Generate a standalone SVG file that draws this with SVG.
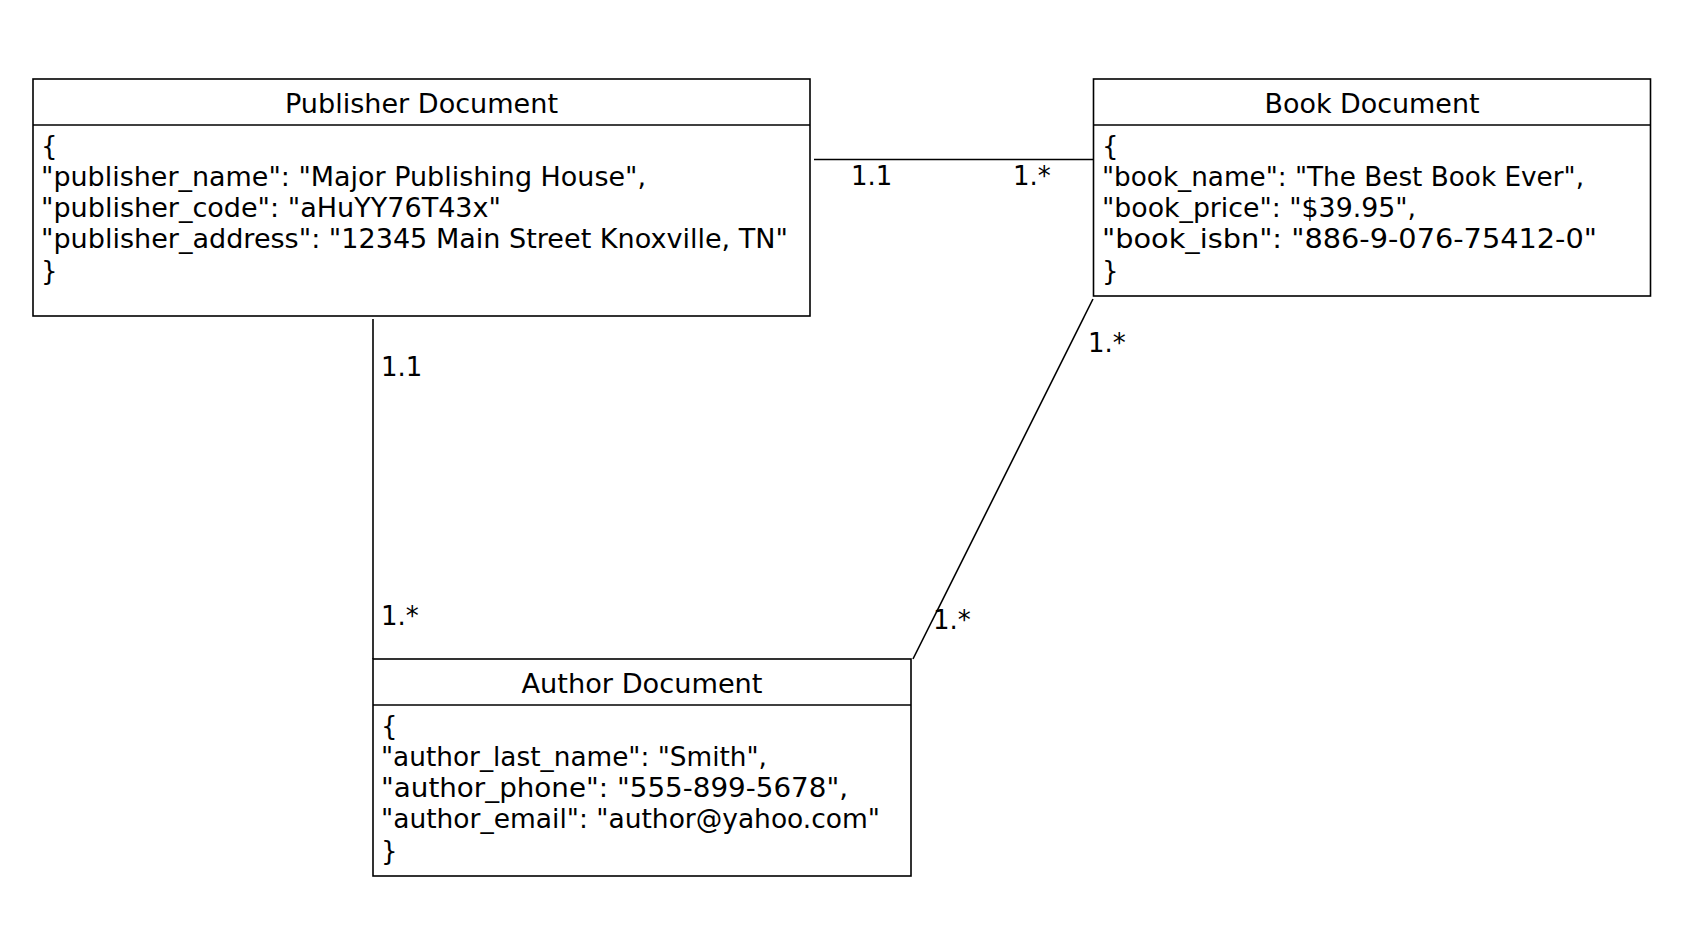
<svg xmlns="http://www.w3.org/2000/svg" width="1686" height="944" viewBox="0 0 1686 944">
<style>
.box{fill:#fff;stroke:#000;stroke-width:1.6}
.div{stroke:#000;stroke-width:1.6}
.t{font-family:"DejaVu Sans","Liberation Sans",sans-serif;font-size:26px;fill:#000}
.ttl{text-anchor:middle}
.conn{stroke:#000;stroke-width:1.6;fill:none}
</style>
<rect width="1686" height="944" fill="#fff"/>
<g id="connectors">
<line class="conn" x1="814" y1="159.5" x2="1093" y2="159.5"/>
<line class="conn" x1="373" y1="319" x2="373" y2="659"/>
<line class="conn" x1="1093" y1="299" x2="913" y2="659"/>
<text class="t" x="851" y="185">1.1</text>
<text class="t" x="1013" y="185">1.*</text>
<text class="t" x="381" y="376">1.1</text>
<text class="t" x="381" y="625">1.*</text>
<text class="t" x="1088" y="352">1.*</text>
<text class="t" x="933" y="629">1.*</text>
</g>
<g id="publisher">
<rect class="box" x="33" y="79" width="777" height="237"/>
<line class="div" x1="33" y1="125" x2="810" y2="125"/>
<text class="t ttl" x="421.5" y="113" textLength="273" lengthAdjust="spacingAndGlyphs">Publisher Document</text>
<text class="t" x="41" y="154.5">{</text>
<text class="t" x="41" y="185.8" textLength="605" lengthAdjust="spacingAndGlyphs">"publisher_name": "Major Publishing House",</text>
<text class="t" x="41" y="217.1" textLength="460" lengthAdjust="spacingAndGlyphs">"publisher_code": "aHuYY76T43x"</text>
<text class="t" x="41" y="248.4" textLength="747" lengthAdjust="spacingAndGlyphs">"publisher_address": "12345 Main Street Knoxville, TN"</text>
<text class="t" x="41" y="279.7">}</text>
</g>
<g id="book">
<rect class="box" x="1093.5" y="79" width="557" height="217"/>
<line class="div" x1="1093.5" y1="125" x2="1650.5" y2="125"/>
<text class="t ttl" x="1372" y="113" textLength="215" lengthAdjust="spacingAndGlyphs">Book Document</text>
<text class="t" x="1102" y="154.5">{</text>
<text class="t" x="1102" y="185.8" textLength="482" lengthAdjust="spacingAndGlyphs">"book_name": "The Best Book Ever",</text>
<text class="t" x="1102" y="217.1" textLength="314" lengthAdjust="spacingAndGlyphs">"book_price": "$39.95",</text>
<text class="t" x="1102" y="248.4" textLength="495" lengthAdjust="spacingAndGlyphs">"book_isbn": "886-9-076-75412-0"</text>
<text class="t" x="1102" y="279.7">}</text>
</g>
<g id="author">
<rect class="box" x="373" y="659" width="538" height="217"/>
<line class="div" x1="373" y1="705" x2="911" y2="705"/>
<text class="t ttl" x="642" y="693" textLength="241" lengthAdjust="spacingAndGlyphs">Author Document</text>
<text class="t" x="381" y="734.5">{</text>
<text class="t" x="381" y="765.8" textLength="386" lengthAdjust="spacingAndGlyphs">"author_last_name": "Smith",</text>
<text class="t" x="381" y="797.1" textLength="467" lengthAdjust="spacingAndGlyphs">"author_phone": "555-899-5678",</text>
<text class="t" x="381" y="828.4" textLength="499" lengthAdjust="spacingAndGlyphs">"author_email": "author@yahoo.com"</text>
<text class="t" x="381" y="859.7">}</text>
</g>
</svg>
